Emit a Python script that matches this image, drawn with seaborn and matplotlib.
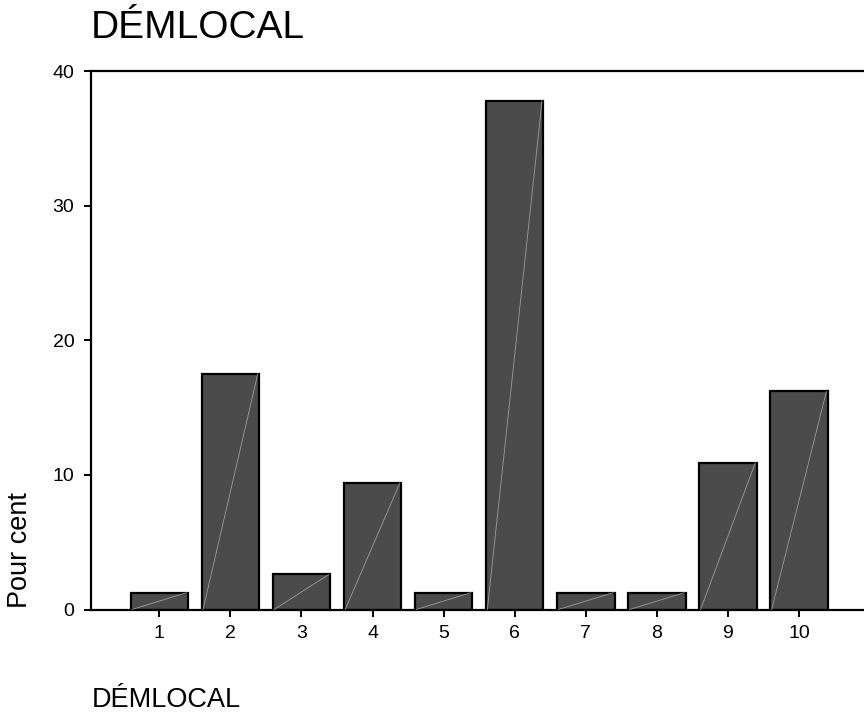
import pandas as pd
import seaborn as sns
import matplotlib.pyplot as plt

categories = ["1", "2", "3", "4", "5", "6", "7", "8", "9", "10"]
percents = [1.25, 17.5, 2.6, 9.4, 1.25, 37.8, 1.25, 1.25, 10.9, 16.2]
y_ticks = [0, 10, 20, 30, 40]

df = pd.DataFrame({"DÉMLOCAL": categories, "Pour cent": percents})

sns.set_theme(style="white")
plt.rcParams["font.family"] = ["Liberation Sans", "DejaVu Sans"]
plt.rcParams["text.color"] = "black"

fig = plt.figure(figsize=(8.64, 7.13), dpi=100)
ax = fig.add_axes([91 / 864, 1 - 609.5 / 713, 1 - 91 / 864, (609.5 - 71) / 713])

sns.barplot(data=df, x="DÉMLOCAL", y="Pour cent", order=categories,
            color="#4b4b4b", saturation=1, width=0.81,
            edgecolor="black", linewidth=1.6, ax=ax)

# fine diagonal line drawn in every bar
for p in ax.patches:
    x0, w, h = p.get_x(), p.get_width(), p.get_height()
    ax.plot([x0 + 0.02, x0 + w - 0.02], [0, h], color="#9c9c9c", lw=0.6, zorder=3)

ax.set_xlim(-0.961, 9.914)
ax.set_ylim(0, 40)
ax.set_yticks(y_ticks)
ax.set_xlabel("")
ax.set_ylabel("")

for side in ["left", "top", "bottom"]:
    ax.spines[side].set_visible(True)
    ax.spines[side].set_color("black")
    ax.spines[side].set_linewidth(1.6)
ax.spines["right"].set_visible(False)

ax.tick_params(axis="both", which="major", direction="out", length=5, width=1.4,
               color="black", labelsize=14, labelcolor="black",
               bottom=True, left=True)
ax.tick_params(axis="x", pad=6)
ax.tick_params(axis="y", pad=7)

fig.text(91 / 864, 1 - 38 / 713, "DÉMLOCAL", fontsize=28, color="black",
         ha="left", va="baseline")
fig.text(92 / 864, 1 - 707 / 713, "DÉMLOCAL", fontsize=19.5, color="black",
         ha="left", va="baseline")
fig.text(27 / 864, 1 - 608 / 713, "Pour cent", fontsize=19.5, color="black",
         rotation=90, rotation_mode="anchor", ha="left", va="baseline")

fig.savefig("out.png", dpi=100)
